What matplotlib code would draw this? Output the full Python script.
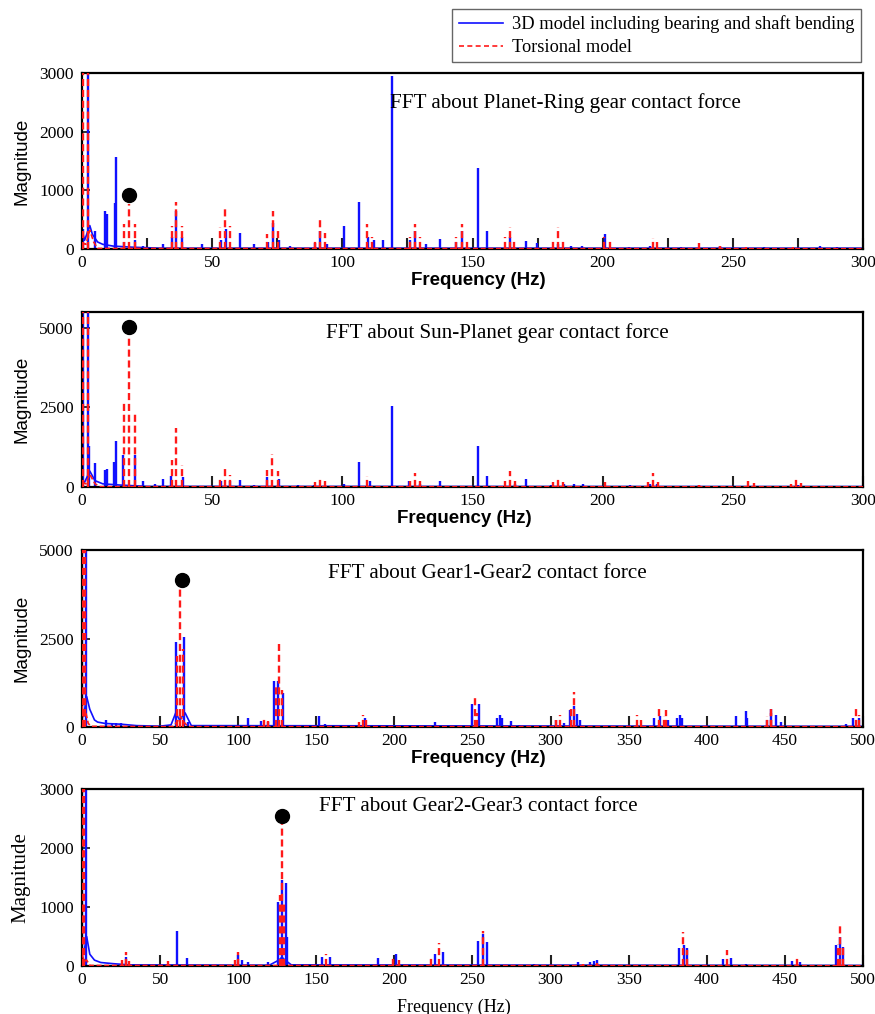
import matplotlib
matplotlib.use("Agg")
import matplotlib.pyplot as plt
from matplotlib.lines import Line2D
from matplotlib.ticker import MultipleLocator

# ---------------- data ----------------
titles = ["FFT about Planet-Ring gear contact force",
          "FFT about Sun-Planet gear contact force",
          "FFT about Gear1-Gear2 contact force",
          "FFT about Gear2-Gear3 contact force"]
legend_labels = ["3D model including bearing and shaft bending", "Torsional model"]

# Panel 1: Planet-Ring
p1_blue_f = [0.3, 2.4, 5.0, 8.8, 9.6, 12.5, 13.2, 16.0, 20.5, 23.5, 31.0, 34.5, 36.3, 38.6, 46.0,
             53.5, 55.2, 60.7, 66.0, 71.5, 73.3, 75.5, 80.0, 89.5, 91.5, 94.0, 100.5, 106.5, 110.0,
             112.0, 115.5, 119.0, 126.0, 128.0, 132.0, 137.5, 143.5, 146.0, 152.0, 155.7, 164.4,
             170.6, 174.7, 182.9, 188.0, 192.0, 201.0, 210.0, 218.0, 230.0, 245.0, 262.0, 283.5, 290.0]
p1_blue_m = [350, 6000, 300, 650, 600, 780, 1570, 120, 150, 60, 80, 200, 650, 200, 80,
             150, 350, 270, 80, 120, 450, 160, 60, 100, 300, 80, 400, 800, 200,
             150, 150, 2950, 150, 300, 80, 170, 120, 300, 1380, 310, 200,
             140, 100, 80, 50, 50, 250, 40, 60, 40, 50, 40, 60, 30]
p1_red_f = [0.5, 2.2, 16.0, 18.0, 20.2, 34.6, 36.3, 38.6, 53.0, 55.0, 56.8, 71.0, 73.3, 75.3,
            89.4, 91.4, 93.3, 109.6, 111.5, 126.0, 128.0, 129.9, 143.5, 146.0, 148.0, 162.5,
            164.4, 166.0, 181.0, 182.9, 184.8, 200.5, 202.8, 219.2, 221.0, 237.0, 245.0, 255.0, 273.0]
p1_red_m = [6000, 6000, 420, 770, 430, 400, 800, 390, 370, 730, 390, 260, 640, 320,
            160, 550, 270, 430, 200, 200, 430, 200, 200, 430, 150, 200,
            380, 150, 150, 380, 150, 200, 130, 180, 120, 100, 50, 40, 40]
p1_blue_bg_f = [0, 1, 3, 4, 6, 8, 12, 20, 30, 300]
p1_blue_bg_m = [320, 150, 400, 250, 120, 80, 50, 30, 15, 15]
p1_red_bg_f = [0, 1.5, 3.0, 4.5, 6, 300]
p1_red_bg_m = [100, 80, 320, 120, 10, 5]
p1_dot = (18.2, 920)

# Panel 2: Sun-Planet
p2_blue_f = [0.3, 2.4, 2.8, 5.0, 8.8, 9.6, 12.4, 13.1, 15.6, 20.5, 23.5, 28.0, 31.2, 34.3, 38.8,
             53.5, 56.8, 60.7, 66.0, 71.0, 75.5, 83.0, 89.0, 100.5, 106.5, 110.5, 118.9, 125.5,
             130.0, 137.5, 152.0, 155.7, 166.5, 170.4, 180.0, 185.0, 188.8, 192.4, 210.5, 218.0,
             221.0, 237.0, 257.0, 275.0, 285.0]
p2_blue_m = [8000, 8000, 1300, 750, 520, 560, 800, 1450, 1000, 1000, 200, 80, 250, 350, 300,
             200, 200, 230, 60, 300, 250, 50, 60, 80, 800, 200, 2550, 200,
             100, 200, 1280, 350, 100, 250, 60, 100, 100, 80, 50, 100,
             80, 50, 40, 50, 40]
p2_red_f = [0.5, 2.2, 16.1, 18.2, 20.2, 34.6, 36.3, 38.6, 53.0, 55.0, 56.8, 71.0, 73.1, 75.3,
            89.4, 91.4, 93.3, 109.6, 126.0, 128.0, 129.9, 162.5, 164.4, 166.5, 180.8, 182.9,
            184.9, 201.0, 217.6, 219.2, 221.4, 237.0, 256.0, 258.2, 272.2, 274.3, 276.2]
p2_red_m = [8000, 8000, 2650, 5000, 2400, 850, 1850, 700, 300, 580, 370, 550, 1050, 500,
            150, 250, 200, 350, 200, 450, 200, 200, 500, 200, 150, 320,
            150, 150, 150, 450, 150, 60, 200, 120, 100, 250, 120]
p2_blue_bg_f = [0, 1, 3, 5, 8, 15, 25, 300]
p2_blue_bg_m = [200, 150, 500, 200, 100, 60, 20, 15]
p2_red_bg_f = [0, 1.5, 3, 5, 7, 300]
p2_red_bg_m = [150, 100, 400, 100, 10, 5]
p2_dot = (18.2, 5040)

# Panel 3: Gear1-Gear2
p3_blue_f = [0.3, 2.5, 15.5, 19.0, 22.0, 25.0, 60.2, 65.3, 68.0, 106.5, 114.6, 119.3, 123.1,
             125.7, 128.5, 151.9, 155.6, 181.5, 188.6, 211.0, 226.0, 249.5, 254.3, 266.0, 267.6,
             269.0, 274.6, 280.0, 303.5, 308.6, 312.4, 315.0, 317.1, 319.0, 366.5, 370.0, 375.0,
             381.0, 382.8, 384.0, 419.0, 424.8, 426.0, 438.7, 441.3, 444.5, 447.3, 489.3, 493.6, 497.5]
p3_blue_m = [8000, 8000, 200, 120, 120, 100, 2400, 2550, 150, 250, 180, 150, 1300,
             1300, 950, 300, 80, 250, 60, 50, 150, 650, 650, 250, 350,
             250, 180, 60, 200, 120, 470, 600, 380, 200, 250, 300, 200,
             250, 350, 250, 320, 450, 250, 200, 500, 350, 150, 80, 250, 250]
p3_red_f = [0.5, 2.0, 61.0, 63.0, 64.5, 116.7, 119.3, 124.2, 126.0, 127.8, 177.5, 179.7, 181.8,
            251.8, 253.2, 303.5, 306.0, 313.0, 315.0, 355.5, 357.6, 369.1, 372.5, 373.8,
            438.7, 440.8, 441.3, 495.7, 497.4]
p3_red_m = [8000, 8000, 2000, 4100, 2200, 280, 180, 1200, 2350, 1050, 150, 350, 200,
            900, 400, 200, 350, 500, 980, 350, 200, 500, 300, 480,
            300, 400, 600, 550, 350]
p3_blue_bg_f = [0, 1, 3, 5, 8, 10, 15, 25, 35, 50, 57, 60, 62.5, 66, 70, 500]
p3_blue_bg_m = [500, 300, 860, 500, 200, 140, 100, 80, 40, 25, 60, 400, 200, 400, 40, 20]
p3_red_bg_f = [0, 1, 2.5, 4, 6, 58, 61, 63, 65, 68, 500]
p3_red_bg_m = [600, 300, 400, 100, 20, 10, 150, 300, 150, 10, 10]
p3_dot = (63.8, 4150)

# Panel 4: Gear2-Gear3
p4_blue_f = [0.3, 2.3, 28.2, 60.6, 67.0, 100.1, 102.6, 106.5, 119.3, 125.7, 128.3, 130.6, 131.2,
             153.9, 158.8, 189.3, 200.8, 226.0, 230.9, 253.7, 256.5, 259.1, 289.6, 317.5, 325.0,
             328.0, 330.0, 382.4, 385.5, 387.5, 410.5, 415.2, 424.8, 454.8, 459.8, 482.6, 485.5, 487.5]
p4_blue_m = [5000, 5000, 150, 600, 140, 180, 100, 70, 60, 1080, 1450, 1400, 500,
             150, 150, 130, 200, 200, 230, 420, 550, 400, 30, 60, 60,
             80, 100, 300, 350, 300, 120, 130, 40, 80, 60, 350, 500, 330]
p4_red_f = [0.5, 1.0, 25.8, 28.2, 30.3, 55.3, 98.0, 100.1, 126.8, 128.0, 129.5, 156.2, 199.3,
            203.0, 223.5, 228.7, 256.5, 321.0, 330.0, 385.0, 387.2, 413.0, 457.6, 483.7, 485.2, 486.9]
p4_red_m = [5000, 5000, 100, 230, 80, 80, 100, 240, 1200, 2450, 1100, 200, 150,
            100, 150, 390, 600, 40, 50, 580, 280, 270, 130, 370, 720, 300]
p4_blue_bg_f = [0, 1, 3, 5, 8, 12, 20, 30, 120, 126, 128, 130, 134, 500]
p4_blue_bg_m = [300, 200, 500, 200, 100, 60, 40, 20, 15, 100, 150, 100, 20, 10]
p4_red_bg_f = [0, 1.5, 3, 5, 500]
p4_red_bg_m = [200, 80, 100, 10, 5]
p4_dot = (128.3, 2550)

# ---------------- figure ----------------
BLUE = "#1010ff"
RED = "#ff1a1a"
SERIF = "Liberation Serif"
SANS = "Liberation Sans"

fig = plt.figure(figsize=(8.75, 10.14), dpi=100)

panels = [
    dict(blue=(p1_blue_f, p1_blue_m), red=(p1_red_f, p1_red_m),
         bbg=(p1_blue_bg_f, p1_blue_bg_m), rbg=(p1_red_bg_f, p1_red_bg_m), dot=p1_dot,
         xmax=300, ymax=3000, yticks=[0, 1000, 2000, 3000], minor=25,
         rect=[0.0937, 0.7544, 0.8926, 0.1736], title_xy=(0.395, 0.83), sans=True, xlab_x=0.508),
    dict(blue=(p2_blue_f, p2_blue_m), red=(p2_red_f, p2_red_m),
         bbg=(p2_blue_bg_f, p2_blue_bg_m), rbg=(p2_red_bg_f, p2_red_bg_m), dot=p2_dot,
         xmax=300, ymax=5500, yticks=[0, 2500, 5000], minor=None,
         rect=[0.0937, 0.5197, 0.8926, 0.1726], title_xy=(0.312, 0.88), sans=True, xlab_x=0.490),
    dict(blue=(p3_blue_f, p3_blue_m), red=(p3_red_f, p3_red_m),
         bbg=(p3_blue_bg_f, p3_blue_bg_m), rbg=(p3_red_bg_f, p3_red_bg_m), dot=p3_dot,
         xmax=500, ymax=5000, yticks=[0, 2500, 5000], minor=None,
         rect=[0.0937, 0.2830, 0.8926, 0.1746], title_xy=(0.315, 0.87), sans=True, xlab_x=0.508),
    dict(blue=(p4_blue_f, p4_blue_m), red=(p4_red_f, p4_red_m),
         bbg=(p4_blue_bg_f, p4_blue_bg_m), rbg=(p4_red_bg_f, p4_red_bg_m), dot=p4_dot,
         xmax=500, ymax=3000, yticks=[0, 1000, 2000, 3000], minor=None,
         rect=[0.0937, 0.0473, 0.8926, 0.1746], title_xy=(0.303, 0.90), sans=False, xlab_x=0.476),
]

dash = (0, (3, 1.6))
for p, title in zip(panels, titles):
    ax = fig.add_axes(p["rect"])
    ax.plot(p["bbg"][0], p["bbg"][1], color=BLUE, lw=1.2, zorder=2)
    ax.vlines(p["blue"][0], 0, p["blue"][1], color=BLUE, lw=1.7, zorder=2)
    ax.plot(p["rbg"][0], p["rbg"][1], color=RED, lw=1.2, linestyle=dash, zorder=3)
    ax.vlines(p["red"][0], 0, p["red"][1], color=RED, lw=1.7, linestyles=[dash], zorder=3)
    ax.plot([p["dot"][0]], [p["dot"][1]], "o", color="black", ms=10, zorder=5)

    ax.set_xlim(0, p["xmax"])
    ax.set_ylim(0, p["ymax"])
    ax.xaxis.set_major_locator(MultipleLocator(50))
    if p["minor"]:
        ax.xaxis.set_minor_locator(MultipleLocator(p["minor"]))
        ax.tick_params(axis="x", which="minor", direction="in", length=8, width=1.5, color="#222222")
    ax.set_yticks(p["yticks"])
    ax.tick_params(axis="x", which="major", direction="in", length=8, width=1.5, color="#222222",
                   labelsize=12.5, pad=4)
    ax.tick_params(axis="y", which="major", direction="in", length=6, width=1.3, color="#222222",
                   labelsize=12.5, pad=6)
    for lab in ax.get_xticklabels() + ax.get_yticklabels():
        lab.set_fontfamily(SERIF)
    for s in ax.spines.values():
        s.set_linewidth(1.6)
        s.set_color("black")

    if p["sans"]:
        ax.set_xlabel("Frequency (Hz)", fontsize=13.5, family=SANS, weight="bold", labelpad=1)
        ax.set_ylabel("Magnitude", fontsize=13.5, family=SANS, labelpad=6)
    else:
        ax.set_xlabel("Frequency (Hz)", fontsize=13, family=SERIF, labelpad=8)
        ax.set_ylabel("Magnitude", fontsize=15, family=SERIF, labelpad=6)
    ax.xaxis.label.set_x(p["xlab_x"])
    ax.text(p["title_xy"][0], p["title_xy"][1], title, transform=ax.transAxes,
            ha="left", va="center", fontsize=15.2, family=SERIF)

handles = [Line2D([], [], color=BLUE, lw=1.2),
           Line2D([], [], color=RED, lw=1.2, linestyle=(0, (3, 2)))]
fig.legend(handles, legend_labels, loc="upper right", bbox_to_anchor=(0.984, 0.991),
           prop={"family": SERIF, "size": 13.2}, frameon=True, fancybox=False,
           edgecolor="#666666", framealpha=1, handlelength=2.4, handletextpad=0.5,
           borderpad=0.35, labelspacing=0.3, borderaxespad=0)

fig.savefig("out.png", dpi=100)
